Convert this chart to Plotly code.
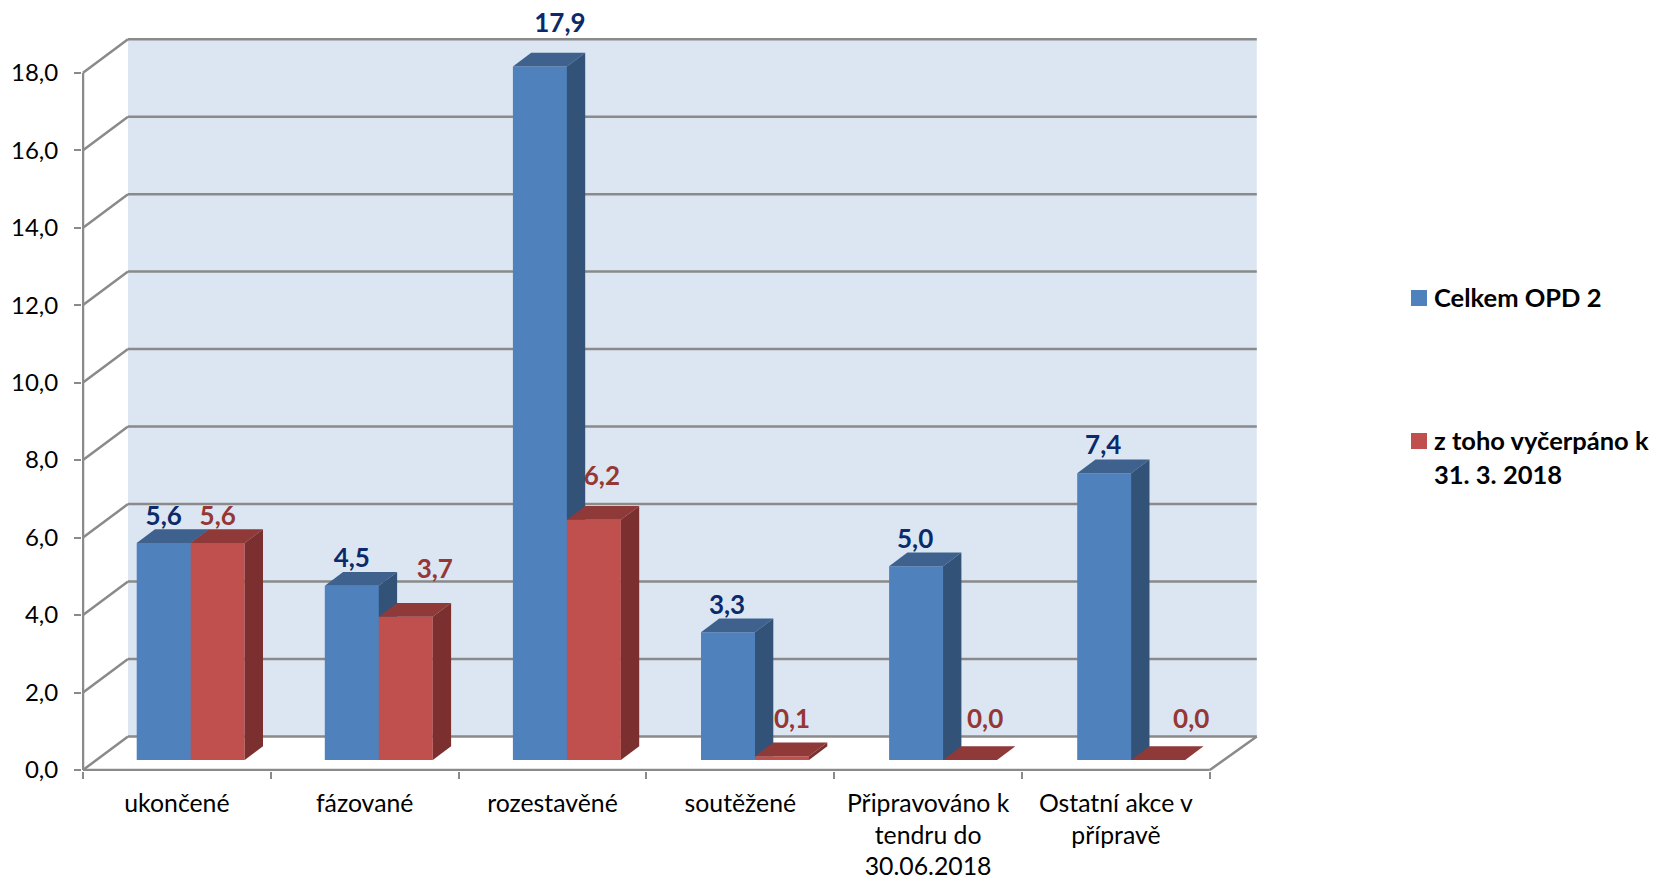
import plotly.graph_objects as go

categories = ["ukončené", "fázované", "rozestavěné", "soutěžené",
              "Připravováno k<br>tendru do<br>30.06.2018", "Ostatní akce v<br>přípravě"]
celkem = [5.6, 4.5, 17.9, 3.3, 5.0, 7.4]
vycerpano = [5.6, 3.7, 6.2, 0.1, 0.0, 0.0]
y_ticks = [0, 2, 4, 6, 8, 10, 12, 14, 16, 18]
series_names = ["Celkem OPD 2", "z toho vyčerpáno k", "31. 3. 2018"]

# pixel scale of the axes
PX_X, PX_Y = 187.8, 38.74
W, H = 1657, 881
L, R, T, B = 82, 1262, 0, 771

# hand-placed label offsets from the default bar-top position (px)
blue_dx = [0, 0, 20, -1, -1, -1]
blue_dy = [25, 25, 41, 25, 25, 26]
red_dx = [0, 29, 8, 10, 15, 33]
red_dy = [25, 45, 41, 35, 39, 39]

GRID = "#8a8a8a"
WALL = "#dce6f2"
C = dict(blue=("#4f81bd", "#3e618d", "#335278", "#0b2a6b"),
         red=("#c0504d", "#8f3938", "#7b302f", "#953735"))
FONT = "Lato"

depth_x, depth_y = 45 / PX_X, 33.5 / PX_Y          # wall depth
right_x = 47 / PX_X                                 # wall right edge overhang
bar_dx, bar_dy = 18.3 / PX_X, 13.7 / PX_Y          # bar depth
floor = 10 / PX_Y                                   # front face lifted above axis
bar_w = 54 / PX_X
bar_left = 53.7 / PX_X
bar_step = 188.1 / PX_X
n = len(categories)

shapes = [dict(type="rect", xref="x", yref="y", layer="below", line_width=0, fillcolor=WALL,
               x0=depth_x, x1=n + right_x, y0=depth_y, y1=y_ticks[-1] + depth_y)]


def gl(x0, y0, x1, y1):
    shapes.append(dict(type="line", xref="x", yref="y", layer="below", x0=x0, y0=y0, x1=x1, y1=y1,
                       line=dict(color=GRID, width=2.5)))


for t in y_ticks:
    gl(0, t, depth_x, t + depth_y)
    gl(depth_x, t + depth_y, n + right_x, t + depth_y)
gl(0, 0, 0, y_ticks[-1])
gl(0, 0, n, 0)
gl(n, 0, n + right_x, depth_y)

fig = go.Figure()
lefts = [i * bar_step + bar_left for i in range(n)]
xs_blue = [x + bar_w / 2 for x in lefts]
xs_red = [x + bar_w * 1.5 for x in lefts]
fig.add_trace(go.Bar(x=[x + 0.5 / PX_X for x in xs_blue], y=celkem, base=floor, width=bar_w + 1 / PX_X,
                     name=series_names[0], marker=dict(color=C["blue"][0], line_width=0), showlegend=False))
fig.add_trace(go.Bar(x=xs_red, y=vycerpano, base=floor, width=bar_w, name=series_names[1],
                     marker=dict(color=C["red"][0], line_width=0), showlegend=False))


def poly(xs, ys, color):
    fig.add_trace(go.Scatter(x=xs, y=ys, mode="lines", fill="toself", fillcolor=color,
                             line=dict(width=0), hoverinfo="skip", showlegend=False))


for i in range(n):
    l, m, r = lefts[i], lefts[i] + bar_w, lefts[i] + 2 * bar_w
    tb, tr = celkem[i] + floor, vycerpano[i] + floor
    poly([l, m, m + bar_dx, l + bar_dx], [tb, tb, tb + bar_dy, tb + bar_dy], C["blue"][1])
    poly([m, m + bar_dx, m + bar_dx, m], [tb, tb + bar_dy, tr, tr], C["blue"][2])
    poly([m, r, r + bar_dx, m + bar_dx], [tr, tr, tr + bar_dy, tr + bar_dy], C["red"][1])
    poly([r, r + bar_dx, r + bar_dx, r], [tr, tr + bar_dy, floor + bar_dy, floor], C["red"][2])

fmt = lambda v: f"{v:.1f}".replace(".", ",")
fig.add_trace(go.Scatter(
    x=[x + d / PX_X for x, d in zip(xs_blue, blue_dx)],
    y=[v + floor + d / PX_Y for v, d in zip(celkem, blue_dy)],
    text=[fmt(v) for v in celkem], mode="text", showlegend=False, hoverinfo="skip",
    textfont=dict(family=FONT, size=26, color=C["blue"][3], weight="bold")))
fig.add_trace(go.Scatter(
    x=[x + d / PX_X for x, d in zip(xs_red, red_dx)],
    y=[v + floor + d / PX_Y for v, d in zip(vycerpano, red_dy)],
    text=[fmt(v) for v in vycerpano], mode="text", showlegend=False, hoverinfo="skip",
    textfont=dict(family=FONT, size=26, color=C["red"][3], weight="bold")))


def legend_item(py, color):
    shapes.append(dict(type="rect", xref="paper", yref="paper", line_width=0, fillcolor=color,
                       x0=(1411 - L) / (R - L), x1=(1427 - L) / (R - L),
                       y0=1 - (py + 8) / B, y1=1 - (py - 8) / B))


def legend_text(py, s):
    fig.add_annotation(xref="paper", yref="paper", x=(1432 - L) / (R - L), y=1 - py / B,
                       text=s, showarrow=False, xanchor="left", yanchor="middle", xshift=0,
                       font=dict(family=FONT, size=25.5, color="black", weight="bold"))


legend_item(298, C["blue"][0])
legend_item(441, C["red"][0])
legend_text(297, series_names[0])
legend_text(440, series_names[1])
legend_text(474, series_names[2])

span = lambda s: "<br>".join(f'<span style="font-size:24.8px">{p}</span>' for p in s.split("<br>"))
fig.update_layout(
    width=W, height=H, margin=dict(l=L, r=W - R, t=T, b=H - B, pad=0, autoexpand=False),
    paper_bgcolor="white", plot_bgcolor="white", barmode="overlay",
    separators=",.", showlegend=False, shapes=shapes,
    font=dict(family=FONT, color="black"),
    xaxis=dict(range=[-1 / PX_X, (R - L - 1) / PX_X], showgrid=False, zeroline=False, showline=False,
               automargin=False,
               tickmode="array", tickvals=[i + 0.5 for i in range(n)],
               ticktext=[span(c) for c in categories], ticks="", tickangle=0, ticklabelstandoff=16,
               tickfont=dict(family=FONT, size=24.3, color="black"),
               minor=dict(tickmode="array", tickvals=list(range(n + 1)), ticks="outside",
                          ticklen=7, tickwidth=2, tickcolor=GRID, showgrid=False)),
    yaxis=dict(range=[-1 / PX_Y, (B - 1) / PX_Y], showgrid=False, zeroline=False, showline=False,
               automargin=False,
               tickmode="array", tickvals=y_ticks, tickformat=".1f", ticks="outside",
               ticklen=7, tickwidth=2, tickcolor=GRID, ticklabelstandoff=11,
               tickfont=dict(family=FONT, size=24, color="black")),
)
fig.write_html("out.html", config=dict(displayModeBar=False),
               post_script="document.body.style.margin='0';")
